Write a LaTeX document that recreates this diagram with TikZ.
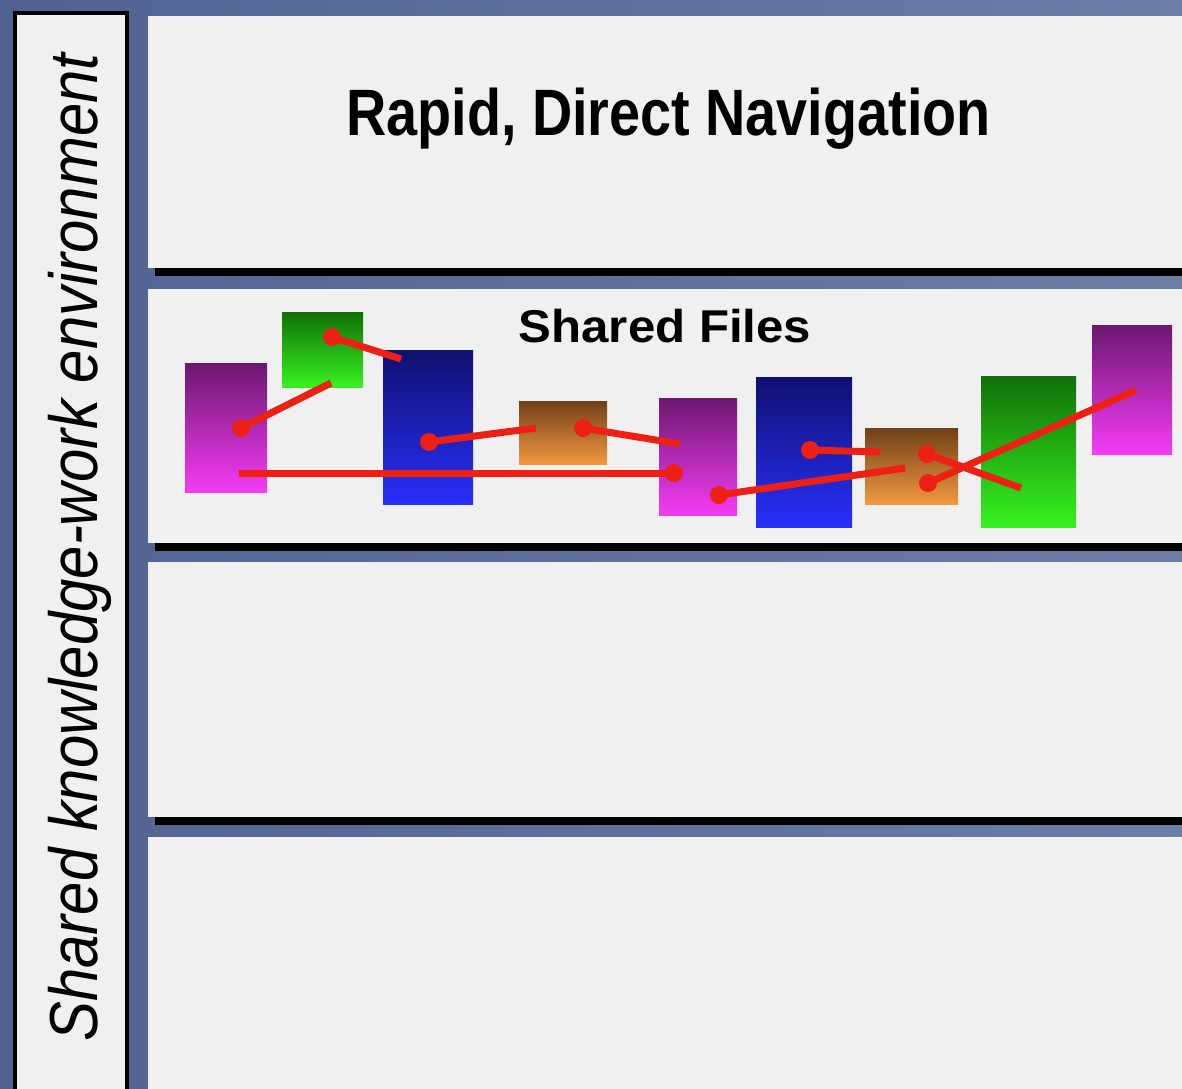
\documentclass[tikz,border=0pt]{standalone}
\usepackage{fontspec}
\setmainfont{Liberation Sans}
\newfontfamily\titlefont[FakeStretch=0.85]{Liberation Sans}
\newfontfamily\filesfont[FakeStretch=1.07]{Liberation Sans}
\newfontfamily\sidefont[FakeStretch=0.88]{Liberation Sans}
\usepackage{tikz}

\definecolor{bgleft}{RGB}{80,98,144}
\definecolor{bgright}{RGB}{108,125,166}
\definecolor{panelgray}{RGB}{240,240,240}
\definecolor{linkred}{RGB}{238,32,20}
\definecolor{purtop}{RGB}{108,24,112}
\definecolor{purbot}{RGB}{244,60,244}
\definecolor{grntop}{RGB}{16,112,8}
\definecolor{grnbot}{RGB}{56,242,32}
\definecolor{blutop}{RGB}{16,16,112}
\definecolor{blubot}{RGB}{40,48,250}
\definecolor{orgtop}{RGB}{112,64,24}
\definecolor{orgbot}{RGB}{242,152,64}

\begin{document}
\begin{tikzpicture}[x=0.5pt, y=-0.5pt,
  file/.style={rectangle, inner sep=0pt, outer sep=0pt},
  purplefile/.style={file, top color=purtop, bottom color=purbot},
  greenfile/.style={file, top color=grntop, bottom color=grnbot},
  bluefile/.style={file, top color=blutop, bottom color=blubot},
  orangefile/.style={file, top color=orgtop, bottom color=orgbot},
  link/.style={draw=linkred, line width=3.5pt},
  linkdot/.style={fill=linkred}]
\useasboundingbox (0,0) rectangle (1182,1088);
\clip (0,0) rectangle (1182,1088);
\shade[left color=bgleft, right color=bgright] (0,0) rectangle (1182,1088);

% side label
\draw[fill=panelgray, line width=2pt] (14.5,12.5) rectangle (126.5,1100);
\node[rotate=90, anchor=base, inner sep=0pt, font=\sidefont\itshape\fontsize{34}{40}\selectfont] (side) at (97,547.5) {Shared knowledge-work environment};

% layers
\fill[black] (155,268) rectangle (1182,276);
\fill[panelgray] (148,16) rectangle (1182,268);
\fill[black] (155,543) rectangle (1182,551);
\fill[panelgray] (148,289) rectangle (1182,543);
\fill[black] (155,817) rectangle (1182,825);
\fill[panelgray] (148,562) rectangle (1182,817);
\fill[panelgray] (148,837) rectangle (1182,1100);

\node[anchor=base, inner sep=0pt, font=\titlefont\bfseries\fontsize{32.8}{38}\selectfont] (nav) at (668.5,135) {Rapid, Direct Navigation};
\node[anchor=base, inner sep=0pt, font=\filesfont\bfseries\fontsize{23}{28}\selectfont] (files) at (665,342) {Shared Files};

% files
\node[purplefile, minimum width=41pt, minimum height=64.5pt] (fileA) at (226,427.5) {};
\node[greenfile, minimum width=40.5pt, minimum height=37.5pt] (fileB) at (322.5,349.5) {};
\node[bluefile, minimum width=45pt, minimum height=77pt] (fileC) at (428,427) {};
\node[orangefile, minimum width=44pt, minimum height=31.5pt] (fileD) at (563,432.5) {};
\node[purplefile, minimum width=39pt, minimum height=58.5pt] (fileE) at (698,456.5) {};
\node[bluefile, minimum width=48pt, minimum height=75pt] (fileF) at (804,452) {};
\node[orangefile, minimum width=46.5pt, minimum height=38pt] (fileG) at (911.5,466) {};
\node[greenfile, minimum width=47.5pt, minimum height=75.5pt] (fileH) at (1028.5,451.5) {};
\node[purplefile, minimum width=40pt, minimum height=64.5pt] (fileI) at (1132,389.5) {};

% links
\coordinate (a-dot) at (241,428);
\coordinate (a-end) at (239,473);
\coordinate (b-dot) at (332,337);
\coordinate (b-end) at (331,383);
\coordinate (c-dot) at (429,442);
\coordinate (c-end) at (401,359);
\coordinate (d-dot) at (583,428);
\coordinate (d-end) at (536,428);
\coordinate (e-dot) at (674,473);
\coordinate (e-dot2) at (719,495);
\coordinate (e-end) at (680,444);
\coordinate (f-dot) at (810,450);
\coordinate (g-dot) at (927,454);
\coordinate (g-dot2) at (928,483);
\coordinate (g-end) at (905,468);
\coordinate (g-end2) at (880,452);
\coordinate (h-end) at (1021,488);
\coordinate (i-end) at (1136,390);

\draw[link] (a-dot) -- (b-end);
\draw[link] (b-dot) -- (c-end);
\draw[link] (c-dot) -- (d-end);
\draw[link] (d-dot) -- (e-end);
\draw[link] (a-end) -- (e-dot);
\draw[link] (e-dot2) -- (g-end);
\draw[link] (f-dot) -- (g-end2);
\draw[link] (g-dot) -- (h-end);
\draw[link] (g-dot2) -- (i-end);
\foreach \p in {a-dot,b-dot,c-dot,d-dot,e-dot,e-dot2,f-dot,g-dot,g-dot2}
  \fill[linkdot] (\p) circle (4.5pt);
\end{tikzpicture}
\end{document}
